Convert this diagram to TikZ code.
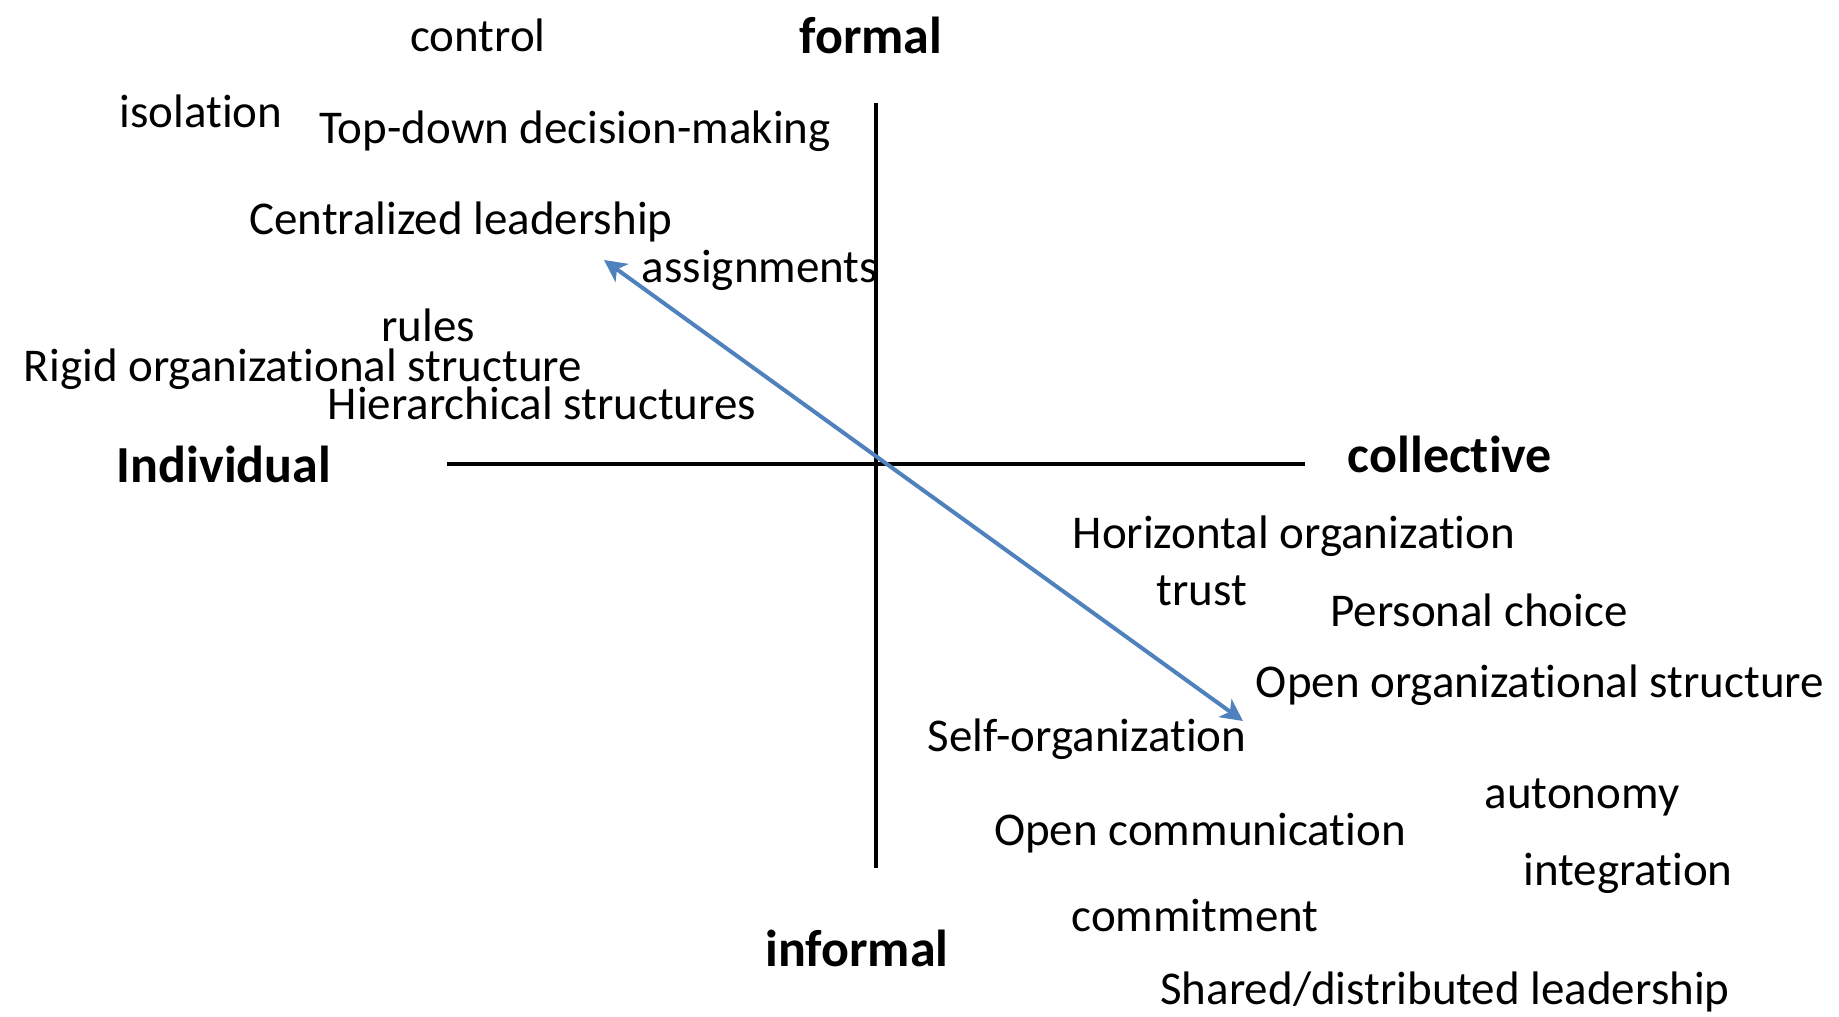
\documentclass[tikz,border=0pt]{standalone}
\usepackage{fontspec}
\setmainfont{Carlito}[Ligatures=NoCommon]
\usetikzlibrary{arrows.meta}
\definecolor{arrowblue}{RGB}{79,129,189}
\newcommand{\tiNL}{t\kern0pt i}
\tikzset{
  lbl/.style={anchor=mid, inner sep=0pt, font=\fontsize{47}{56}\selectfont},
  axlbl/.style={anchor=mid, inner sep=0pt, font=\fontsize{52}{62}\selectfont\bfseries},
  axis/.style={line width=4.5pt, black},
  dirarrow/.style={line width=4pt, arrowblue, {Stealth[length=22pt,width=22pt,inset=6pt]}-{Stealth[length=22pt,width=22pt,inset=6pt]}}
}
\begin{document}
\begin{tikzpicture}[x=1pt,y=-1pt]
\useasboundingbox (0,0) rectangle (1839,1017);
% axes
\coordinate (vt) at (876,103);
\coordinate (vb) at (876,868);
\coordinate (hl) at (447,464);
\coordinate (hr) at (1305,464);
\draw[axis] (vt) -- (vb);
\draw[axis] (hl) -- (hr);
% arrow
\coordinate (aul) at (604,260);
\coordinate (alr) at (1243,721);
\draw[dirarrow] (aul) -- (alr);
% axis labels
\node[axlbl] (formal) at (871,51) {formal};
\node[axlbl] (individual) at (224,480) {Individual};
\node[axlbl] (collective) at (1450,470) {collec\tiNL ve};
\node[axlbl] (informal) at (857,964) {informal};
% upper-left terms
\node[lbl] (control) at (478,49) {control};
\node[lbl] (isolation) at (201,125) {isola\tiNL on};
\node[lbl] (topdown) at (575,141) {Top-down decision-making};
\node[lbl] (central) at (461,232) {Centralized leadership};
\node[lbl] (assign) at (760,280) {assignments};
\node[lbl] (rules) at (428,339) {rules};
\node[lbl] (rigid) at (303,379) {Rigid organiza\tiNL onal structure};
\node[lbl] (hier) at (542,417) {Hierarchical structures};
% lower-right terms
\node[lbl] (horiz) at (1294,546) {Horizontal organiza\tiNL on};
\node[lbl] (trust) at (1202,603) {trust};
\node[lbl] (personal) at (1479,624) {Personal choice};
\node[lbl] (openorg) at (1540,695) {Open organiza\tiNL onal structure};
\node[lbl] (selforg) at (1087,749) {Self-organiza\tiNL on};
\node[lbl] (autonomy) at (1582,806) {autonomy};
\node[lbl] (opencomm) at (1200,843) {Open communica\tiNL on};
\node[lbl] (integration) at (1628,883) {integra\tiNL on};
\node[lbl] (commit) at (1195,929) {commitment};
\node[lbl] (shared) at (1445,1002) {Shared/distributed leadership};
\end{tikzpicture}
\end{document}
